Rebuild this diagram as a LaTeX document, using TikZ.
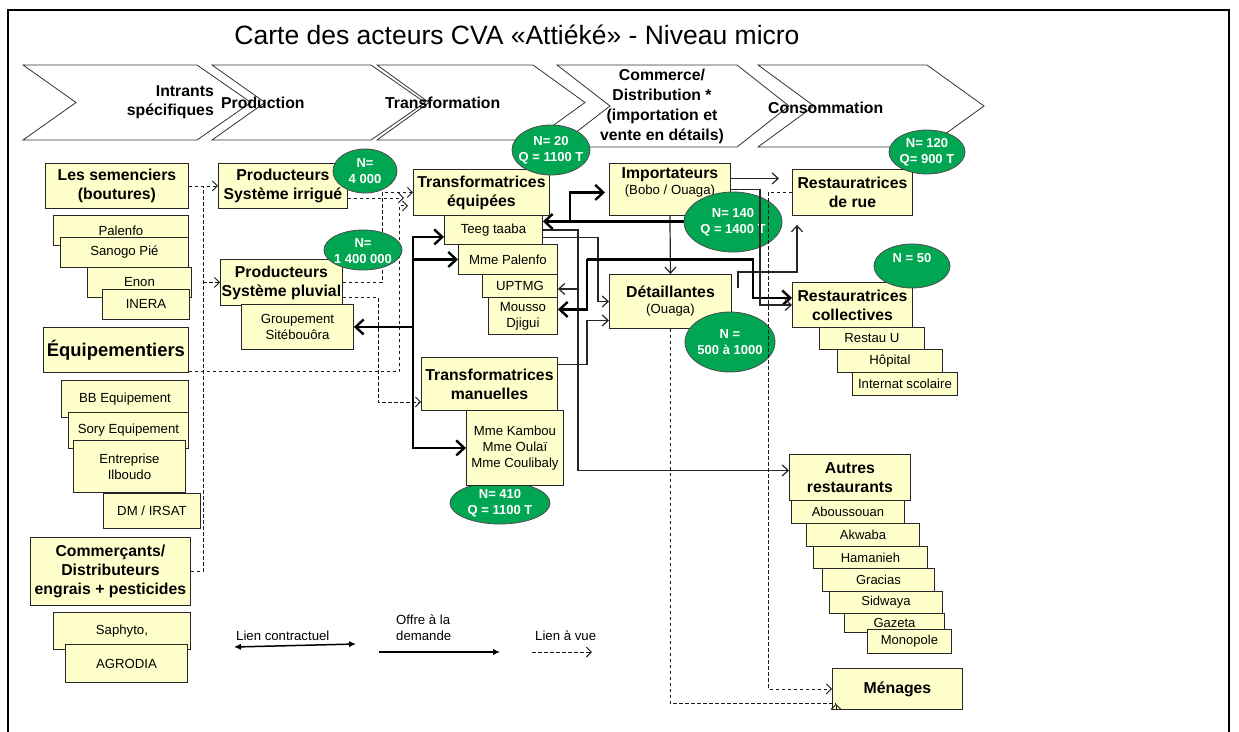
\documentclass[tikz,border=0pt]{standalone}
\usepackage{fontspec}
\setmainfont{Liberation Sans}
\usetikzlibrary{arrows.meta,shapes.geometric}
\definecolor{boxyellow}{HTML}{FFFFCC}
\definecolor{ovalgreen}{HTML}{00A651}
\newcommand\fhead{\fontsize{15.8}{19}\selectfont\bfseries}
\newcommand\fsmall{\fontsize{13.2}{16}\selectfont}
\newcommand\fwhite{\fontsize{13}{16}\selectfont\bfseries}
% actor box: [options]{name}{x1}{y1}{x2}{y2}{text}
\newcommand\ybox[7][]{\node[box,anchor=north west,minimum width=#5pt-#3pt,minimum height=#6pt-#4pt,#1] (#2) at (#3,#4) {#7};}
% green count ellipse: [text options]{name}{cx}{cy}{rx}{ry}{text}
\newcommand\gov[7][]{\node[oval,minimum width=#5pt*2,minimum height=#6pt*2,label={[ovaltext,#1]center:{#7}}] (#2) at (#3,#4) {};}
\begin{document}
\begin{tikzpicture}[x=1pt,y=-1pt,
  box/.style={draw=black!85,fill=boxyellow,line width=0.9pt,inner sep=0pt,align=center,font=\fsmall},
  oval/.style={ellipse,draw=black!70,fill=ovalgreen,line width=0.8pt,inner sep=0pt},
  ovaltext/.style={text=white,font=\fwhite,align=center,inner sep=0pt},
  chev/.style={draw=black!80,line width=0.8pt,line join=miter},
  chevt/.style={font=\fhead,inner sep=0pt},
  lbl/.style={font=\fsmall,inner sep=0pt},
  vueplain/.style={draw=black!90,line width=0.9pt,dash pattern=on 3.5pt off 2.5pt},
  vue/.style={vueplain,-{Straight Barb[length=5pt,width=10pt]}},
  offre/.style={draw=black!85,line width=1.2pt,-{Straight Barb[length=6pt,width=11pt]}},
  contratplain/.style={draw=black,line width=2.4pt},
  contrat/.style={contratplain,-{Straight Barb[length=8pt,width=15pt]}},
  contratback/.style={contratplain,{Straight Barb[length=8pt,width=15pt]}-},
  contratboth/.style={contratplain,{Straight Barb[length=8pt,width=15pt]}-{Straight Barb[length=8pt,width=15pt]}},
  legc/.style={draw=black,line width=1.5pt,{Latex[length=7pt,width=6.5pt]}-{Latex[length=7pt,width=6.5pt]}},
  lego/.style={draw=black,line width=1.2pt,-{Latex[length=7pt,width=6.5pt]}},
]
\useasboundingbox (0,0) rectangle (1239,731);
\fill[white] (0,0) rectangle (1239,731);
% outer frame
\draw[line width=2pt] (8,735) -- (8,10) -- (1229,10) -- (1229,735);

% title
\node[font=\fontsize{26.5}{30}\selectfont,inner sep=0pt] (title) at (517,35) {Carte des acteurs CVA «Attiéké» - Niveau micro};

% value chain chevrons
\draw[chev] (23,65) -- (197,65) -- (251,102.5) -- (197,140) -- (23,140) -- (76,102.5) -- cycle;
\draw[chev] (212,65) -- (371,65) -- (425,102.5) -- (371,140) -- (212,140) -- (265,102.5) -- cycle;
\draw[chev] (377,65) -- (533,65) -- (585,102.5) -- (533,140) -- (377,140) -- (429,102.5) -- cycle;
\draw[chev] (557,65) -- (737,65) -- (789,106) -- (737,147) -- (557,147) -- (610,106) -- cycle;
\draw[chev] (758,65) -- (927,65) -- (984,106) -- (927,147) -- (758,147) -- (814,106) -- cycle;
\node[chevt,anchor=east,align=right] (cin) at (214,102) {Intrants\\spécifiques};
\node[chevt,anchor=west] (cpr) at (221,103) {Production};
\node[chevt,anchor=west] (ctr) at (385,103) {Transformation};
\node[chevt,align=center,font=\fontsize{15.8}{20}\selectfont\bfseries] (ccd) at (662,106) {Commerce/\\Distribution *\\(importation et\\vente en détails)};
\node[chevt,anchor=west] (cco) at (768,108) {Consommation};

% actors: inputs
\ybox[font=\fhead]{sem}{45}{163}{188}{208}{Les semenciers\\(boutures)}
\ybox{pal}{53}{215}{188}{245}{Palenfo}
\ybox{san}{60}{237}{188}{267}{Sanogo Pié}
\ybox{enon}{87}{267}{191}{297}{Enon}
\ybox{inera}{102}{289}{189}{319}{INERA}
\ybox[font=\fontsize{18.4}{22}\selectfont\bfseries]{equip}{43}{327}{188}{372}{Équipementiers}
\ybox{bb}{61}{380}{188}{417}{BB Equipement}
\ybox{sory}{68}{412}{188}{448}{Sory Equipement}
\ybox{ilb}{73}{440}{185}{492}{Entreprise\\Ilboudo}
\ybox{dm}{103}{493}{200}{528}{DM / IRSAT}
\ybox[font=\fhead]{comm}{30}{537}{190}{605}{Commerçants/\\Distributeurs\\engrais + pesticides}
\ybox{saph}{53}{612}{190}{649}{Saphyto,}
\ybox{agro}{65}{644}{187}{682}{AGRODIA}

% actors: production
\ybox[font=\fhead]{irr}{218}{163}{347}{208}{Producteurs\\Système irrigué}
\ybox[font=\fhead]{plu}{220}{259}{342}{305}{Producteurs\\Système pluvial}
\ybox{grp}{241}{304}{353}{349}{Groupement\\Sitébouôra}

% actors: processing
\ybox[font=\fhead]{teq}{413}{169}{549}{215}{Transformatrices\\équipées}
\ybox{teeg}{444}{215}{542}{244}{Teeg taaba}
\ybox{mpal}{458}{244}{557}{274}{Mme Palenfo}
\ybox{upt}{482}{274}{557}{297}{UPTMG}
\ybox{mdj}{488}{297}{557}{334}{Mousso\\Djigui}
\ybox[font=\fhead]{tman}{421}{357}{557}{410}{Transformatrices\\manuelles}
\gov{e410}{500}{503}{50}{21}{N= 410\\Q = 1100 T}
\ybox{kam}{466}{410}{563}{485}{Mme Kambou\\Mme Oulaï\\Mme Coulibaly}

% actors: trade and consumption
\ybox{imp}{609}{163}{730}{215}{{\fhead Importateurs}\\(Bobo / Ouaga)\\~}
\ybox{det}{609}{274}{731}{328}{{\fhead Détaillantes}\\(Ouaga)}
\ybox[font=\fhead]{rue}{792}{169}{912}{215}{Restauratrices\\de rue}
\ybox[font=\fhead]{col}{792}{282}{912}{327}{Restauratrices\\collectives}
\ybox{ru}{819}{327}{924}{349}{Restau U}
\ybox{hop}{837}{349}{942}{372}{Hôpital}
\ybox{ints}{852}{372}{957}{395}{Internat scolaire}
\ybox[font=\fhead]{aut}{789}{454}{910}{500}{Autres\\restaurants}
\ybox[font=\fontsize{13}{16}\selectfont]{abo}{791}{500}{904}{523}{Aboussouan}
\ybox[font=\fontsize{13}{16}\selectfont]{akw}{806}{523}{919}{546}{Akwaba}
\ybox[font=\fontsize{13}{16}\selectfont]{ham}{813}{546}{927}{568}{Hamanieh}
\ybox[font=\fontsize{13}{16}\selectfont]{gra}{822}{568}{934}{591}{Gracias}
\ybox[font=\fontsize{13}{16}\selectfont]{sid}{829}{591}{942}{613}{Sidwaya}
\ybox[font=\fontsize{13}{16}\selectfont]{gaz}{844}{613}{944}{632}{\raisebox{-2.5pt}{Gazeta}}
\ybox[font=\fontsize{13}{16}\selectfont]{mono}{867}{629}{951}{653}{Monopole}
\ybox[font=\fhead]{men}{832}{668}{962}{709}{Ménages}

% bend columns
\coordinate (xa) at (203,0);
\coordinate (xb) at (399,0);
\coordinate (xc) at (382,0);
\coordinate (xd) at (378,0);
\coordinate (xe) at (768,0);
\coordinate (xf) at (760,0);
\coordinate (xg) at (578,0);
\coordinate (xh) at (598,0);
\coordinate (xi) at (587,0);
\coordinate (xj) at (413,0);
\coordinate (xk) at (570,0);
\coordinate (xl) at (753,0);
\coordinate (xm) at (740,0);

% dashed links (lien a vue)
\draw[vue] (sem.east) -- (irr.west);
\draw[vueplain] (comm.east) -| (xa |- sem.east);
\draw[vue] (xa |- plu.west) -- (plu.west);
\coordinate (teqA) at ([xshift=-5pt,yshift=10pt]teq.south west);
\draw[vue] ([yshift=1pt]equip.south east) -| (xb |- teqA) -- (teqA);
\coordinate (irrA) at ([yshift=-12pt]irr.east);
\coordinate (teqB) at ([xshift=-9pt]teq.west);
\draw[vue] (irrA) -- (irrA -| teqB);
\draw[vue] (plu.east) -| (xc |- teq.west) -- (teq.west);
\coordinate (pluA) at ([yshift=-15pt]plu.east);
\coordinate (tmanA) at ([yshift=-18pt]tman.west);
\draw[vue] (pluA) -| (xd |- tmanA) -- (tmanA);
\coordinate (menA) at ([xshift=4pt,yshift=6pt]men.south west);
\draw[vueplain] (det.south) |- (menA);
\draw[vue] ([yshift=-6pt]menA) -- (menA);

% thin links (offre a la demande)
\coordinate (impA) at ([yshift=11pt]imp.east);
\coordinate (rueA) at ([xshift=-13pt]rue.west);
\draw[offre] (impA) -- (impA -| rueA);
\draw[offre] (imp.south) -- (det.north);
\coordinate (detA) at ([xshift=6pt,yshift=-14pt]det.north east);
\coordinate (rueB) at ([xshift=5pt,yshift=-9pt]rue.south west);
\draw[offre] (detA) -- ++(0,-16) -| (rueB);
\coordinate (autA) at ([yshift=7pt]aut.west);
\draw[offre] (teeg.east) -| (xg |- autA) -- (autA);
\coordinate (uptA) at ([yshift=-3pt]upt.east);
\draw[offre] (xg |- uptA) -- (uptA);
\coordinate (teegA) at ([yshift=-7.5pt]teeg.east);
\draw[offre] (teegA) -| (xh |- det.west) -- (det.west);
\coordinate (tmanB) at ([yshift=19.5pt]tman.east);
\coordinate (detB) at ([yshift=-19pt]det.west);
\draw[offre] (tmanB) -| (xi |- detB) -- (detB);

% thick links (lien contractuel)
\coordinate (teegB) at ([yshift=-7pt]teeg.west);
\draw[contratboth] (teegB) -| (xj |- kam.west) -- (kam.west);
\draw[contrat] (xj |- mpal.west) -- (mpal.west);
\draw[contrat] (xj |- grp.east) -- (grp.east);
\coordinate (teegC) at ([yshift=8.5pt]teeg.east);
\draw[contratback] (teegC) -- (teegC -| xm);
\coordinate (impB) at ([xshift=-4pt,yshift=-3pt]imp.west);
\draw[contrat] (xk |- teegC) |- (impB);
\coordinate (k4) at (xi |- mpal.west);
\coordinate (colA) at ([yshift=7pt]col.west);
\draw[contrat] (k4) -| (xl |- colA) -- (colA);
\coordinate (mdjA) at ([yshift=6.5pt]mdj.east);
\draw[contrat] (k4) |- (mdjA);

% counts
\gov{e20}{551}{150}{39}{25}{N= 20\\Q = 1100 T}
\gov{e4k}{365}{171}{32}{22}{N=\\4 000}
\gov[yshift=-1.5pt]{e14m}{363}{250}{39}{20}{N=\\1 400 000}
\gov{e140}{733}{222}{49}{30}{N= 140\\Q = 1400 T}
\gov{e120}{927}{152}{38}{22}{N= 120\\Q= 900 T}
\gov{e50}{912}{266}{38}{22}{N = 50\\~}
\gov{e500}{730}{342}{45}{30}{N =\\500 à 1000}

% links passing over the counts
\draw[vue] (rue.west) -| (xe |- men.west) -- (men.west);
\draw[offre] (imp.east) -| (xf |- col.west) -- (col.west);

% legend
\node[lbl,anchor=west] (lgc) at (236,636) {Lien contractuel};
\node[lbl,anchor=west,align=left] (lgo) at (396,627.5) {Offre à la\\demande};
\node[lbl,anchor=west] (lgv) at (535,636) {Lien à vue};
\coordinate (lc1) at (234,647);
\coordinate (lc2) at (356,644);
\draw[legc] (lc1) -- (lc2);
\coordinate (lo1) at (379,652);
\coordinate (lo2) at (500,652);
\draw[lego] (lo1) -- (lo2);
\coordinate (lv1) at (532,652);
\coordinate (lv2) at (592,652);
\draw[vue] (lv1) -- (lv2);
\end{tikzpicture}
\end{document}
